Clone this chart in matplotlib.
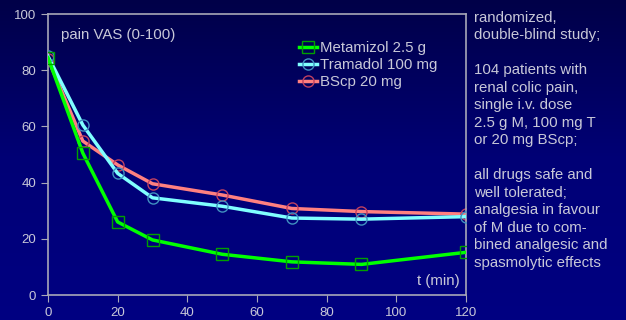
import numpy as np
import matplotlib.pyplot as plt
from matplotlib.colors import LinearSegmentedColormap

# time points (min) and mean pain VAS per drug
t_min = [0, 10, 20, 30, 50, 70, 90, 120]
metamizol = [84.5, 50.5, 26.0, 19.6, 14.5, 11.8, 10.9, 15.2]
tramadol = [85.0, 60.5, 43.3, 34.6, 31.6, 27.4, 27.0, 27.9]
bscp = [84.0, 54.8, 46.3, 39.6, 35.6, 30.8, 29.7, 28.8]

labels = ['Metamizol 2.5 g', 'Tramadol 100 mg', 'BScp 20 mg']
notes = ("randomized,\ndouble-blind study;\n\n104 patients with\nrenal colic pain,\n"
         "single i.v. dose\n2.5 g M, 100 mg T\nor 20 mg BScp;\n\nall drugs safe and\n"
         "well tolerated;\nanalgesia in favour\nof M due to com-\nbined analgesic and\n"
         "spasmolytic effects")

plt.rcParams['font.family'] = ['Liberation Sans', 'DejaVu Sans']
txt = '#c8c8d8'
frame = '#a8a8b8'

fig = plt.figure(figsize=(6.26, 3.2), dpi=100)

# dark navy gradient background
bg = fig.add_axes([0, 0, 1, 1], zorder=-1)
grad = np.linspace(0, 1, 256).reshape(-1, 1)
cmap = LinearSegmentedColormap.from_list('bg', ['#000048', '#000076', '#000082'])
bg.imshow(grad, aspect='auto', cmap=cmap, extent=[0, 1, 0, 1])
bg.axis('off')

ax = fig.add_axes([0.0767, 0.0781, 0.6677, 0.8779])
ax.patch.set_alpha(0)

ax.plot(t_min, tramadol, color='#80ffff', lw=2.5, marker='o', ms=8, mfc='none',
        mec='#4090c0', mew=1.0, label=labels[1], zorder=3)
ax.plot(t_min, bscp, color='#ff8080', lw=2.5, marker='o', ms=8, mfc='none',
        mec='#c04060', mew=1.0, label=labels[2], zorder=2)
ax.plot(t_min, metamizol, color='#00ff00', lw=2.5, marker='s', ms=9, mfc='none',
        mec='#00a000', mew=1.0, label=labels[0], zorder=4)

h, l = ax.get_legend_handles_labels()
order = [2, 0, 1]
leg = ax.legend([h[i] for i in order], [l[i] for i in order], loc='upper left',
                bbox_to_anchor=(0.585, 0.925), frameon=False, fontsize=10.8,
                handlelength=1.2, handletextpad=0.2, labelspacing=0.2,
                borderaxespad=0)
for tx in leg.get_texts():
    tx.set_color(txt)

ax.set_xlim(0, 120)
ax.set_ylim(0, 100)
ax.set_xticks(range(0, 121, 20))
ax.set_yticks(range(0, 101, 20))
ax.tick_params(colors=frame, labelcolor=txt, labelsize=9.5, length=5, direction='out')
for s in ax.spines.values():
    s.set_color(frame)
    s.set_linewidth(1.2)

ax.text(0.03, 0.927, 'pain VAS (0-100)', transform=ax.transAxes, color=txt,
        fontsize=10.8, va='center')
ax.text(0.985, 0.05, 't (min)', transform=ax.transAxes, color=txt,
        fontsize=10.8, ha='right', va='center')

fig.text(0.757, 0.966, notes, color=txt, fontsize=10.8, va='top', ha='left',
         linespacing=1.317)

fig.savefig('out.png', dpi=100)
